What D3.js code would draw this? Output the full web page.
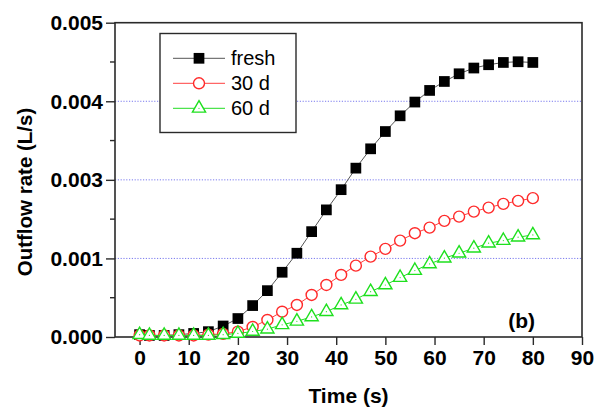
<!DOCTYPE html>
<html>
<head>
<meta charset="utf-8">
<script src="https://cdn.jsdelivr.net/npm/d3@7"></script>
<style>
  html, body { margin: 0; padding: 0; background: #fff; }
  svg { display: block; }
  text { font-family: "Liberation Sans", Arial, sans-serif; }
</style>
</head>
<body>
<svg id="chart" width="602" height="410"></svg>
<script>
// ---- data ----
const times = [0, 2, 5, 8, 11, 14, 17, 20, 23, 26, 29, 32, 35, 38, 41, 44, 47, 50, 53, 56, 59, 62, 65, 68, 71, 74, 77, 80];
const fresh = [0.000030, 0.000020, 0.000020, 0.000030, 0.000045, 0.000068, 0.000140, 0.000235, 0.000400, 0.000590, 0.000824, 0.001066, 0.001341, 0.001618, 0.001875, 0.002149, 0.002395, 0.002615, 0.002815, 0.002990, 0.003138, 0.003252, 0.003350, 0.003423, 0.003465, 0.003494, 0.003503, 0.003494];
const d30 = [0.000020, 0.000020, 0.000020, 0.000020, 0.000020, 0.000030, 0.000040, 0.000068, 0.000128, 0.000217, 0.000322, 0.000408, 0.000535, 0.000662, 0.000790, 0.000908, 0.001023, 0.001121, 0.001227, 0.001321, 0.001392, 0.001478, 0.001532, 0.001596, 0.001647, 0.001694, 0.001732, 0.001767];
const d60 = [0.000030, 0.000020, 0.000020, 0.000020, 0.000020, 0.000020, 0.000030, 0.000045, 0.000070, 0.000100, 0.000155, 0.000200, 0.000255, 0.000322, 0.000408, 0.000480, 0.000577, 0.000662, 0.000756, 0.000845, 0.000930, 0.001003, 0.001066, 0.001130, 0.001194, 0.001227, 0.001270, 0.001299];
const seriesNames = ["fresh", "30 d", "60 d"];
const xTicks = [0, 10, 20, 30, 40, 50, 60, 70, 80, 90];
const yTicks = [0, 0.001, 0.002, 0.003, 0.004];
const yTickLabels = ["0.000", "0.001", "0.003", "0.004", "0.005"]; // as printed in the figure
const gridValues = [0.001, 0.002, 0.003];
const xTitle = "Time (s)";
const yTitle = "Outflow rate (L/s)";
const panelLabel = "(b)";

// ---- layout ----
const svg = d3.select("#chart");
const L = 115, R = 582, T = 22.7, B = 337;
const x = d3.scaleLinear().domain([-5, 90]).range([L, R]);
const y = d3.scaleLinear().domain([0, 0.004]).range([B, T]);
const axisColor = "#2a2a2a";

// grid
svg.append("g").selectAll("line").data(gridValues).join("line")
  .attr("x1", L).attr("x2", R)
  .attr("y1", d => y(d)).attr("y2", d => y(d))
  .attr("stroke", "#7a7aee").attr("stroke-width", 1)
  .attr("stroke-dasharray", "1.2,1.6");

// axes
const xAxis = d3.axisBottom(x).tickValues(xTicks).tickSize(8).tickPadding(5).tickFormat(d3.format("d"));
const gx = svg.append("g").attr("transform", `translate(0,${B})`).call(xAxis);
const yAxis = d3.axisLeft(y).tickValues(yTicks).tickSize(9).tickPadding(3)
  .tickFormat((d, i) => yTickLabels[i]);
const gy = svg.append("g").attr("transform", `translate(${L},0)`).call(yAxis);
// minor y ticks
const yMinor = d3.range(0, 4).map(i => yTicks[i] + 0.0005);
svg.append("g").selectAll("line").data(yMinor).join("line")
  .attr("x1", L - 5).attr("x2", L).attr("y1", d => y(d)).attr("y2", d => y(d))
  .attr("stroke", axisColor).attr("stroke-width", 1.4);

[gx, gy].forEach(g => {
  g.select(".domain").remove();
  g.selectAll(".tick line").attr("stroke", axisColor).attr("stroke-width", 1.4);
  g.selectAll(".tick text").attr("fill", "#000").attr("font-size", 21).attr("font-weight", "bold");
});

// frame
svg.append("rect").attr("x", L).attr("y", T).attr("width", R - L).attr("height", B - T)
  .attr("fill", "none").attr("stroke", axisColor).attr("stroke-width", 1.6);

// titles
svg.append("text").attr("x", (L + R) / 2).attr("y", 403).attr("text-anchor", "middle")
  .attr("font-size", 21).attr("font-weight", "bold").text(xTitle);
svg.append("text").attr("transform", "translate(32,192) rotate(-90)").attr("text-anchor", "middle")
  .attr("font-size", 20.5).attr("font-weight", "bold").text(yTitle);
svg.append("text").attr("x", 535).attr("y", 328).attr("text-anchor", "end")
  .attr("font-size", 21).attr("font-weight", "bold").text(panelLabel);

// series
const series = [
  { name: seriesNames[0], vals: fresh, line: "#555", stroke: "#000", fill: "#000", sym: d3.symbolSquare, size: 115 },
  { name: seriesNames[1], vals: d30, line: "#ff4040", stroke: "#ff2a2a", fill: "#fff", sym: d3.symbolCircle, size: 95 },
  { name: seriesNames[2], vals: d60, line: "#22dd22", stroke: "#1ee01e", fill: "#fff", sym: d3.symbolTriangle, size: 75 }
];
const lineGen = d3.line().x(d => x(d[0])).y(d => y(d[1]));
series.forEach(s => {
  const pts = times.map((t, i) => [t, s.vals[i]]);
  svg.append("path").datum(pts).attr("d", lineGen)
    .attr("fill", "none").attr("stroke", s.line).attr("stroke-width", 1);
  const g = svg.append("g");
  g.selectAll("path").data(pts).join("path")
    .attr("transform", d => `translate(${x(d[0])},${y(d[1])})`)
    .attr("d", d3.symbol().type(s.sym).size(s.size))
    .attr("fill", s.fill).attr("stroke", s.stroke).attr("stroke-width", s.fill === "#000" ? 0 : 1.4);
  if (s.sym === d3.symbolTriangle) {
    g.selectAll("circle").data(pts).join("circle")
      .attr("cx", d => x(d[0])).attr("cy", d => y(d[1])).attr("r", 0.6).attr("fill", s.stroke);
  }
});

// legend
const lg = svg.append("g");
lg.append("rect").attr("x", 160).attr("y", 33.5).attr("width", 136).attr("height", 99)
  .attr("fill", "#fff").attr("stroke", axisColor).attr("stroke-width", 1.4);
series.forEach((s, i) => {
  const cy = 58.3 + i * 25;
  lg.append("line").attr("x1", 173).attr("x2", 225).attr("y1", cy).attr("y2", cy)
    .attr("stroke", s.line).attr("stroke-width", 1);
  lg.append("path").attr("transform", `translate(199,${cy})`)
    .attr("d", d3.symbol().type(s.sym).size(s.size))
    .attr("fill", s.fill).attr("stroke", s.stroke).attr("stroke-width", s.fill === "#000" ? 0 : 1.4);
  if (s.sym === d3.symbolTriangle) {
    lg.append("circle").attr("cx", 199).attr("cy", cy).attr("r", 0.6).attr("fill", s.stroke);
  }
  lg.append("text").attr("x", 231).attr("y", cy + 7).attr("font-size", 20).attr("fill", "#000").text(s.name);
});
</script>
</body>
</html>
